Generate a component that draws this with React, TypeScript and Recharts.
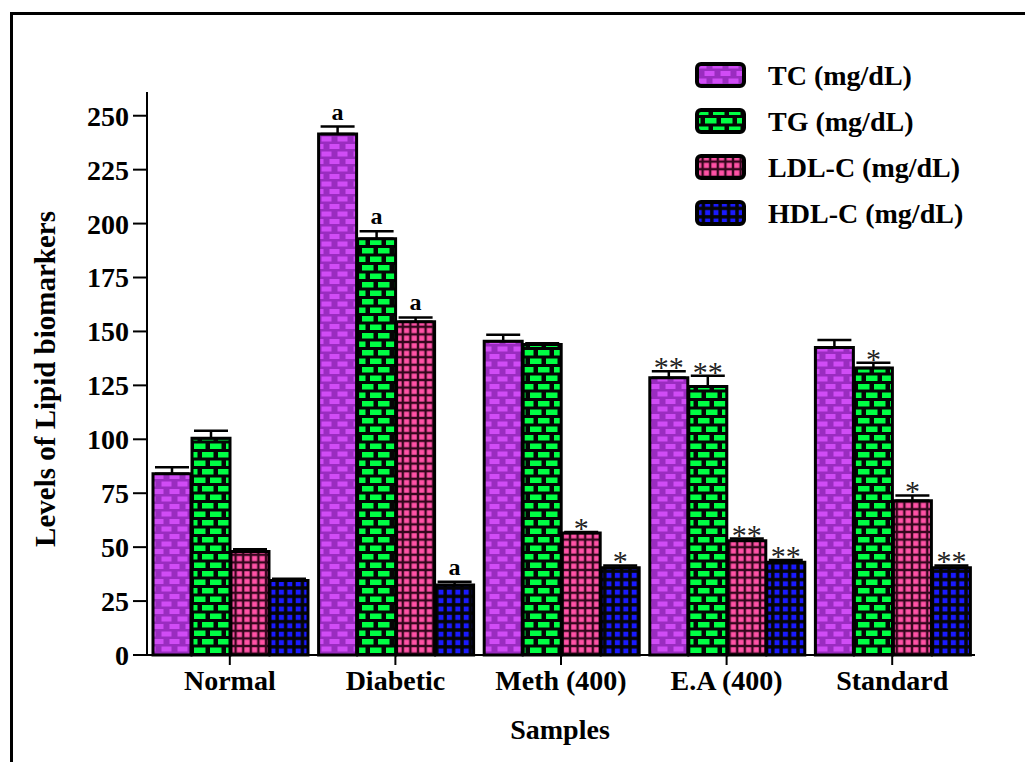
import React from 'react';
import { BarChart, Bar, XAxis, YAxis, ErrorBar, Legend, Label, LabelList } from 'recharts';

// ---------- data ----------
const categories = ['Normal', 'Diabetic', 'Meth (400)', 'E.A (400)', 'Standard'];

const tcValues = [84, 241.5, 145.5, 128.5, 142.5];
const tcErrors = [3, 3.5, 3, 3, 3.5];
const tcMarks = ['', 'a', '', '**', ''];

const tgValues = [100.5, 193, 144, 124.5, 133];
const tgErrors = [3.5, 3.5, 0.5, 5, 2.5];
const tgMarks = ['', 'a', '', '**', '*'];

const ldlValues = [48, 154.5, 56.5, 53, 71.5];
const ldlErrors = [1, 2, 0.5, 1, 2.5];
const ldlMarks = ['', 'a', '*', '**', '*'];

const hdlValues = [34.5, 32.5, 40.5, 43, 40.5];
const hdlErrors = [0.8, 1.5, 1, 1, 1];
const hdlMarks = ['', 'a', '*', '**', '**'];

const yTicks = [0, 25, 50, 75, 100, 125, 150, 175, 200, 225, 250];
const Y_MAX = 261;

const seriesNames = ['TC (mg/dL)', 'TG (mg/dL)', 'LDL-C (mg/dL)', 'HDL-C (mg/dL)'];
const patternIds = ['patTC', 'patTG', 'patLDL', 'patHDL'];

// ---------- layout ----------
const FONT = '"Liberation Serif", "Times New Roman", Times, serif';
const CHART_W = 1025;
const CHART_H = 762;
const MARGIN = { top: 92, right: 50, bottom: 77, left: 0 };
const X_AXIS_H = 30;
const PLOT_H = CHART_H - MARGIN.top - MARGIN.bottom - X_AXIS_H;
const PX_PER_UNIT = PLOT_H / Y_MAX;

const data = categories.map((c, i) => ({
  name: c,
  tc: tcValues[i],
  tcErr: [0, tcErrors[i]],
  tg: tgValues[i],
  tgErr: [0, tgErrors[i]],
  ldl: ldlValues[i],
  ldlErr: [0, ldlErrors[i]],
  hdl: hdlValues[i],
  hdlErr: [0, hdlErrors[i]],
}));

const makeMark = (marks: string[], errs: number[]) => (props: any) => {
  const { x, y, width, index } = props;
  const m = marks[index];
  if (!m) return null;
  const capY = Number(y) - errs[index] * PX_PER_UNIT;
  const isStar = m.indexOf('*') >= 0;
  return (
    <text
      key={`m-${index}`}
      x={Number(x) + Number(width) / 2}
      y={isStar ? capY + 6 : capY - 7}
      textAnchor="middle"
      fontFamily={FONT}
      fontWeight={isStar ? 'normal' : 'bold'}
      fontSize={isStar ? 30 : 24}
      fill={isStar ? '#222' : '#000'}
    >
      {m}
    </text>
  );
};

const Patterns = () => (
  <defs>
    <pattern id="patTC" patternUnits="userSpaceOnUse" width="16" height="15">
      <rect width="16" height="15" fill="#9a2cc0" />
      <rect x="1.5" y="1.5" width="10" height="5" fill="#d04cf5" />
      <rect x="-6.5" y="9" width="10" height="5" fill="#d04cf5" />
      <rect x="9.5" y="9" width="10" height="5" fill="#d04cf5" />
    </pattern>
    <pattern id="patTG" patternUnits="userSpaceOnUse" width="16" height="17">
      <rect width="16" height="17" fill="#050505" />
      <rect x="2" y="1.5" width="11.5" height="5.5" fill="#00ff44" />
      <rect x="-6" y="10" width="11.5" height="5.5" fill="#00ff44" />
      <rect x="10" y="10" width="11.5" height="5.5" fill="#00ff44" />
    </pattern>
    <pattern id="patLDL" patternUnits="userSpaceOnUse" width="7.6" height="7.6">
      <rect width="7.6" height="7.6" fill="#33061c" />
      <rect x="1.2" y="1.2" width="5.2" height="5.2" fill="#ff52a6" />
    </pattern>
    <pattern id="patHDL" patternUnits="userSpaceOnUse" width="8.4" height="8.4">
      <rect width="8.4" height="8.4" fill="#050505" />
      <rect x="1.7" y="1.7" width="5" height="5" fill="#1a1aff" />
    </pattern>
  </defs>
);

const renderLegend = () => (
  <div style={{ fontFamily: FONT }}>
    {seriesNames.map((n, i) => (
      <div key={n} style={{ display: 'flex', alignItems: 'center', height: 46 }}>
        <svg width={52} height={28} style={{ display: 'block' }}>
          <rect x={2} y={2} width={47} height={22} rx={4} fill={`url(#${patternIds[i]})`} stroke="#000" strokeWidth={4} />
        </svg>
        <span style={{ marginLeft: 21, fontSize: 28, fontWeight: 'bold', color: '#000', whiteSpace: 'nowrap' }}>{n}</span>
      </div>
    ))}
  </div>
);

const tickStyle = { fill: '#000', fontSize: 28, fontWeight: 'bold', fontFamily: FONT };

export default function App() {
  return (
    <div style={{ position: 'absolute', left: 0, top: 0, width: CHART_W, height: CHART_H, overflow: 'hidden', background: '#fff' }}>
      <div
        style={{
          position: 'absolute',
          left: 10,
          top: 12,
          width: 1100,
          height: 900,
          borderLeft: '3px solid #000',
          borderTop: '3px solid #000',
        }}
      />
      <div style={{ position: 'absolute', left: 0, top: 0 }}>
        <BarChart
          width={CHART_W}
          height={CHART_H}
          data={data}
          margin={MARGIN}
          barCategoryGap={6}
          barGap={1}
        >
          <Patterns />
          <XAxis
            dataKey="name"
            height={X_AXIS_H}
            tick={tickStyle}
            tickSize={10}
            tickMargin={5}
            axisLine={{ stroke: '#000', strokeWidth: 2 }}
            tickLine={{ stroke: '#000', strokeWidth: 2 }}
            interval={0}
          >
            <Label
              content={() => (
                <text x={560} y={739} textAnchor="middle" fontFamily={FONT} fontWeight="bold" fontSize={28} fill="#000">
                  Samples
                </text>
              )}
            />
          </XAxis>
          <YAxis
            width={147}
            domain={[0, Y_MAX]}
            ticks={yTicks}
            tick={tickStyle}
            tickSize={14}
            tickMargin={4}
            axisLine={{ stroke: '#000', strokeWidth: 2 }}
            tickLine={{ stroke: '#000', strokeWidth: 2 }}
            interval={0}
          >
            <Label
              content={() => (
                <text
                  transform="translate(55,379) rotate(-90)"
                  textAnchor="middle"
                  fontFamily={FONT}
                  fontWeight="bold"
                  fontSize={29}
                  fill="#000"
                >
                  Levels of Lipid biomarkers
                </text>
              )}
            />
          </YAxis>
          <Legend
            content={renderLegend}
            layout="horizontal"
            verticalAlign="middle"
            align="center"
            wrapperStyle={{ left: 695, top: 53, width: 330 }}
          />
          <Bar dataKey="tc" name={seriesNames[0]} fill="url(#patTC)" stroke="#000" strokeWidth={3} isAnimationActive={false}>
            <ErrorBar dataKey="tcErr" width={17} stroke="#000" strokeWidth={2.5} direction="y" />
            <LabelList dataKey="tc" content={makeMark(tcMarks, tcErrors)} />
          </Bar>
          <Bar dataKey="tg" name={seriesNames[1]} fill="url(#patTG)" stroke="#000" strokeWidth={3} isAnimationActive={false}>
            <ErrorBar dataKey="tgErr" width={17} stroke="#000" strokeWidth={2.5} direction="y" />
            <LabelList dataKey="tg" content={makeMark(tgMarks, tgErrors)} />
          </Bar>
          <Bar dataKey="ldl" name={seriesNames[2]} fill="url(#patLDL)" stroke="#000" strokeWidth={3} isAnimationActive={false}>
            <ErrorBar dataKey="ldlErr" width={17} stroke="#000" strokeWidth={2.5} direction="y" />
            <LabelList dataKey="ldl" content={makeMark(ldlMarks, ldlErrors)} />
          </Bar>
          <Bar dataKey="hdl" name={seriesNames[3]} fill="url(#patHDL)" stroke="#000" strokeWidth={3} isAnimationActive={false}>
            <ErrorBar dataKey="hdlErr" width={17} stroke="#000" strokeWidth={2.5} direction="y" />
            <LabelList dataKey="hdl" content={makeMark(hdlMarks, hdlErrors)} />
          </Bar>
        </BarChart>
      </div>
    </div>
  );
}
